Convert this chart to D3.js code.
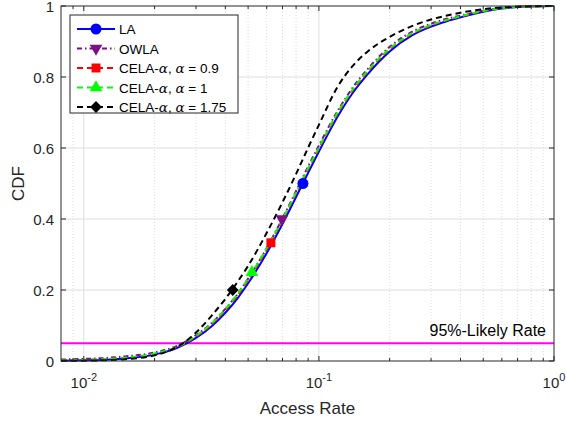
<!DOCTYPE html>
<html>
<head>
<meta charset="utf-8">
<script src="https://cdn.jsdelivr.net/npm/d3@7"></script>
<style>
  body { margin: 0; background: #fff; }
  svg { font-family: "Liberation Sans", Arial, Helvetica, sans-serif; }
</style>
</head>
<body>
<div class="chart"></div>
<script>
// Access rate grid (x) shared by all curves
const rates = [0.008, 0.01, 0.012, 0.015, 0.02, 0.025, 0.03, 0.035, 0.04, 0.045, 0.05,
  0.06, 0.07, 0.08, 0.09, 0.1, 0.12, 0.14, 0.16, 0.18, 0.2, 0.25, 0.3, 0.35, 0.4,
  0.5, 0.6, 0.7, 0.8, 1.0];

// CDF values
const cdfLA = [0.001, 0.002, 0.003, 0.007, 0.018, 0.037, 0.065, 0.098, 0.136, 0.176, 0.219,
  0.304, 0.386, 0.462, 0.530, 0.590, 0.688, 0.757, 0.805, 0.843, 0.872, 0.918, 0.942, 0.957, 0.968,
  0.984, 0.993, 0.997, 0.999, 1.0];
const cdfOWLA = [0.004, 0.006, 0.008, 0.013, 0.024, 0.043, 0.073, 0.107, 0.147, 0.188, 0.232,
  0.318, 0.402, 0.479, 0.548, 0.607, 0.704, 0.772, 0.820, 0.857, 0.885, 0.928, 0.950, 0.964, 0.973,
  0.987, 0.995, 0.998, 0.999, 1.0];
const cdfCela09 = [0.002, 0.003, 0.005, 0.009, 0.020, 0.039, 0.069, 0.103, 0.143, 0.184, 0.228,
  0.314, 0.396, 0.472, 0.540, 0.598, 0.696, 0.764, 0.812, 0.849, 0.878, 0.922, 0.945, 0.960, 0.970,
  0.985, 0.994, 0.998, 0.999, 1.0];
const cdfCela1 = [0.002, 0.003, 0.005, 0.009, 0.021, 0.040, 0.071, 0.106, 0.146, 0.188, 0.232,
  0.318, 0.399, 0.475, 0.543, 0.601, 0.699, 0.767, 0.815, 0.852, 0.880, 0.924, 0.947, 0.961, 0.971,
  0.986, 0.994, 0.998, 0.999, 1.0];
const cdfCela175 = [0.0005, 0.001, 0.002, 0.005, 0.016, 0.040, 0.080, 0.128, 0.175, 0.222, 0.268,
  0.361, 0.447, 0.527, 0.601, 0.665, 0.772, 0.833, 0.870, 0.895, 0.913, 0.944, 0.962, 0.973, 0.981,
  0.991, 0.996, 0.998, 0.999, 1.0];

// one marker per curve [rate, cdf]
const markLA = [0.0855, 0.5];
const markOWLA = [0.0696, 0.4];
const markCela09 = [0.0625, 0.333];
const markCela1 = [0.0519, 0.25];
const markCela175 = [0.043, 0.2];

const seriesNames = ["LA", "OWLA", "CELA-α, α = 0.9", "CELA-α, α = 1", "CELA-α, α = 1.75"];
const likelyLevel = 0.05;
const yTicks = [0, 0.2, 0.4, 0.6, 0.8, 1];
const xMajor = [0.01, 0.1, 1];

const series = [
  {name: seriesNames[0], y: cdfLA, mark: markLA, color: "#0000ff", dash: null, symbol: d3.symbolCircle, rot: 0, size: 95},
  {name: seriesNames[1], y: cdfOWLA, mark: markOWLA, color: "#7e0f87", dash: "5,3,1.5,3", symbol: d3.symbolTriangle, rot: 180, size: 70},
  {name: seriesNames[2], y: cdfCela09, mark: markCela09, color: "#ff0000", dash: "6,4", symbol: d3.symbolSquare, rot: 0, size: 80},
  {name: seriesNames[3], y: cdfCela1, mark: markCela1, color: "#00ff00", dash: "6,4", symbol: d3.symbolTriangle, rot: 0, size: 70},
  {name: seriesNames[4], y: cdfCela175, mark: markCela175, color: "#000000", dash: "6,4", symbol: d3.symbolSquare, rot: 45, size: 70}
];

const W = 566, H = 423;
const plot = {left: 61, right: 554, top: 6, bottom: 361};
const axisCol = "#262626";

const x = d3.scaleLog().domain([0.008, 1]).range([plot.left, plot.right]);
const y = d3.scaleLinear().domain([0, 1]).range([plot.bottom, plot.top]);

const svg = d3.select(".chart").append("svg")
    .attr("width", W)
    .attr("height", H);

// minor x positions
const xMinor = [];
[0.001, 0.01, 0.1].forEach(dec => {
  for (let k = 2; k <= 9; k++) {
    const v = dec * k;
    if (v > 0.008 && v < 1) xMinor.push(v);
  }
});

// grid
const grid = svg.append("g");
grid.selectAll(".minor").data(xMinor).join("line")
    .attr("x1", d => x(d)).attr("x2", d => x(d))
    .attr("y1", plot.top).attr("y2", plot.bottom)
    .attr("stroke", "#d4d4d4").attr("stroke-width", 0.8)
    .attr("stroke-dasharray", "1,2");
grid.selectAll(".majx").data(xMajor.filter(d => d < 1)).join("line")
    .attr("x1", d => x(d)).attr("x2", d => x(d))
    .attr("y1", plot.top).attr("y2", plot.bottom)
    .attr("stroke", "#dedede").attr("stroke-width", 1);
grid.selectAll(".majy").data(yTicks.slice(1, -1)).join("line")
    .attr("x1", plot.left).attr("x2", plot.right)
    .attr("y1", d => y(d)).attr("y2", d => y(d))
    .attr("stroke", "#dedede").attr("stroke-width", 1);

// 95%-likely line
svg.append("line")
    .attr("x1", plot.left).attr("x2", plot.right)
    .attr("y1", y(likelyLevel)).attr("y2", y(likelyLevel))
    .attr("stroke", "#ff00ff").attr("stroke-width", 2);
svg.append("text")
    .attr("x", plot.right - 8).attr("y", y(likelyLevel) - 7)
    .attr("text-anchor", "end")
    .attr("font-size", 16).attr("fill", "#000")
    .text("95%-Likely Rate");

// curves
const line = d3.line()
  .x(d => x(d[0]))
  .y(d => y(d[1]))
  .curve(d3.curveMonotoneX);

const curves = svg.append("g");
series.forEach(s => {
  curves.append("path")
      .datum(rates.map((r, i) => [r, s.y[i]]))
      .attr("fill", "none")
      .attr("stroke", s.color)
      .attr("stroke-width", 2)
      .attr("stroke-dasharray", s.dash)
      .attr("d", line);
});
series.forEach(s => {
  curves.append("path")
      .attr("d", d3.symbol().type(s.symbol).size(s.size)())
      .attr("transform", "translate(" + x(s.mark[0]) + "," + y(s.mark[1]) + ") rotate(" + s.rot + ")")
      .attr("fill", s.color);
});

// axes box
svg.append("rect")
    .attr("x", plot.left).attr("y", plot.top)
    .attr("width", plot.right - plot.left).attr("height", plot.bottom - plot.top)
    .attr("fill", "none").attr("stroke", axisCol).attr("stroke-width", 1);

// ticks (inward, all four sides)
const ticks = svg.append("g").attr("stroke", axisCol).attr("stroke-width", 1);
xMajor.concat(xMinor).forEach(v => {
  const len = xMajor.includes(v) ? 5 : 3;
  ticks.append("line").attr("x1", x(v)).attr("x2", x(v)).attr("y1", plot.bottom).attr("y2", plot.bottom - len);
  ticks.append("line").attr("x1", x(v)).attr("x2", x(v)).attr("y1", plot.top).attr("y2", plot.top + len);
});
yTicks.forEach(v => {
  ticks.append("line").attr("x1", plot.left).attr("x2", plot.left + 5).attr("y1", y(v)).attr("y2", y(v));
  ticks.append("line").attr("x1", plot.right).attr("x2", plot.right - 5).attr("y1", y(v)).attr("y2", y(v));
});

// y tick labels
svg.append("g").selectAll("text").data(yTicks).join("text")
    .attr("x", plot.left - 7).attr("y", d => y(d) + 6)
    .attr("text-anchor", "end")
    .attr("font-size", 15).attr("fill", axisCol)
    .text(d => d);

// x tick labels 10^n
xMajor.forEach(v => {
  const t = svg.append("text")
      .attr("x", x(v)).attr("y", plot.bottom + 27)
      .attr("text-anchor", "middle")
      .attr("font-size", 15).attr("fill", axisCol);
  t.append("tspan").text("10");
  t.append("tspan").attr("dy", -7).attr("font-size", 11).text(Math.round(Math.log10(v)));
});

// axis titles
svg.append("text")
    .attr("x", (plot.left + plot.right) / 2).attr("y", 414)
    .attr("text-anchor", "middle")
    .attr("font-size", 17).attr("fill", axisCol)
    .text("Access Rate");
svg.append("text")
    .attr("transform", "translate(24," + ((plot.top + plot.bottom) / 2) + ") rotate(-90)")
    .attr("text-anchor", "middle")
    .attr("font-size", 17).attr("fill", axisCol)
    .text("CDF");

// legend
const leg = svg.append("g").attr("transform", "translate(70,15)");
leg.append("rect")
    .attr("width", 168).attr("height", 98)
    .attr("fill", "#fff").attr("stroke", axisCol).attr("stroke-width", 1);
series.forEach((s, i) => {
  const ly = 14 + i * 19.5;
  leg.append("line")
      .attr("x1", 7).attr("x2", 45).attr("y1", ly).attr("y2", ly)
      .attr("stroke", s.color).attr("stroke-width", 2)
      .attr("stroke-dasharray", s.dash);
  leg.append("path")
      .attr("d", d3.symbol().type(s.symbol).size(s.size)())
      .attr("transform", "translate(26," + ly + ") rotate(" + s.rot + ")")
      .attr("fill", s.color);
  const t = leg.append("text")
      .attr("x", 49).attr("y", ly + 5)
      .attr("font-size", 13.5).attr("fill", "#000");
  // italic alpha parts
  s.name.split(/(α)/).forEach(part => {
    if (part === "") return;
    const sp = t.append("tspan").text(part);
    if (part === "α") sp.attr("font-style", "italic").attr("font-family", "'DejaVu Serif', serif");
  });
});
</script>
</body>
</html>
